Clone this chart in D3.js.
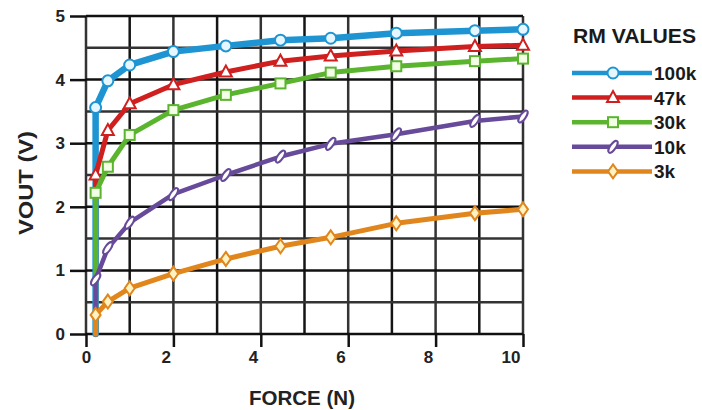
<!DOCTYPE html>
<html>
<head>
<meta charset="utf-8">
<script src="https://cdn.jsdelivr.net/npm/d3@7"></script>
<style>
  html, body { margin: 0; padding: 0; background: #fff; }
  svg { display: block; font-family: "Liberation Sans", Arial, sans-serif; }
</style>
</head>
<body>
<svg id="chart" width="702" height="410"></svg>
<script>
// Force sample points (N), shared by every RM curve
const forces = [0.22, 0.5, 1, 2, 3.2, 4.45, 5.6, 7.1, 8.9, 10];

// Output voltage (V) for each RM value
const vout100k = [3.56, 3.98, 4.23, 4.44, 4.53, 4.62, 4.65, 4.73, 4.77, 4.79];
const vout47k  = [2.50, 3.20, 3.62, 3.92, 4.12, 4.29, 4.37, 4.45, 4.52, 4.54];
const vout30k  = [2.22, 2.63, 3.13, 3.52, 3.76, 3.94, 4.11, 4.21, 4.29, 4.33];
const vout10k  = [0.86, 1.35, 1.75, 2.20, 2.50, 2.79, 2.99, 3.14, 3.35, 3.42];
const vout3k   = [0.30, 0.51, 0.72, 0.95, 1.18, 1.38, 1.52, 1.74, 1.90, 1.96];

const seriesNames = ["100k", "47k", "30k", "10k", "3k"];
const xTicks = [0, 2, 4, 6, 8, 10];
const yTicks = [0, 1, 2, 3, 4, 5];

const series = [
  { name: "100k", values: vout100k, color: "#1e95d2", fill: "#e6f6ff", width: 6.5, shape: "circle" },
  { name: "47k",  values: vout47k,  color: "#d01f1f", fill: "#ffffff", width: 5,   shape: "triangle" },
  { name: "30k",  values: vout30k,  color: "#5bb42e", fill: "#f2ffe4", width: 5,   shape: "square" },
  { name: "10k",  values: vout10k,  color: "#674a99", fill: "#ffffff", width: 4.5, shape: "oval" },
  { name: "3k",   values: vout3k,   color: "#e0861c", fill: "#fff3c4", width: 5,   shape: "diamond" }
];

const svg = d3.select("#chart");
const x = d3.scaleLinear().domain([0, 10]).range([86, 523]);
const y = d3.scaleLinear().domain([0, 5]).range([334, 16]);

// Grid: a line at every newton and every half volt
const grid = svg.append("g");
grid.selectAll("line.v").data(d3.range(0, 11)).join("line")
  .attr("x1", d => x(d)).attr("x2", d => x(d))
  .attr("y1", y(5)).attr("y2", y(0))
  .attr("stroke", (d, i) => i % 2 ? "#151515" : "#333")
  .attr("stroke-width", 2.5);
grid.selectAll("line.h").data(d3.range(0, 11).map(d => d / 2)).join("line")
  .attr("x1", x(0)).attr("x2", x(10))
  .attr("y1", d => y(d)).attr("y2", d => y(d))
  .attr("stroke", (d, i) => i % 2 ? "#333" : "#111")
  .attr("stroke-width", 2.5);

// Y axis: outward ticks at whole volts
const yAxis = d3.axisLeft(y).tickValues(yTicks).tickSize(16).tickPadding(5).tickFormat(d3.format("d"));
const gy = svg.append("g").attr("transform", `translate(${x(0)},0)`).call(yAxis);
gy.select(".domain").remove();
gy.selectAll(".tick line").attr("stroke", "#111").attr("stroke-width", 2.5);
gy.selectAll(".tick text")
  .attr("font-size", 17).attr("font-weight", "bold").attr("fill", "#222")
  .attr("font-family", "Liberation Sans, Arial, sans-serif");

// X axis: ticks below the plot at even newtons
const xAxis = d3.axisBottom(x).tickValues(xTicks).tickSize(13).tickPadding(4).tickFormat(d3.format("d"));
const gx = svg.append("g").attr("transform", `translate(0,${y(0)})`).call(xAxis);
gx.select(".domain").remove();
gx.selectAll(".tick line").attr("stroke", "#111").attr("stroke-width", 2.5);
gx.selectAll(".tick text")
  .attr("font-size", 17).attr("font-weight", "bold").attr("fill", "#222")
  .attr("font-family", "Liberation Sans, Arial, sans-serif")
  .attr("text-anchor", d => d === 0 ? "middle" : "end")
  .attr("dx", d => d === 0 ? 0 : -3);

// Axis titles
svg.append("text")
  .attr("x", 302).attr("y", 405)
  .attr("text-anchor", "middle")
  .attr("font-size", 21).attr("font-weight", "bold").attr("fill", "#222")
  .attr("textLength", 106).attr("lengthAdjust", "spacingAndGlyphs")
  .text("FORCE (N)");
svg.append("text")
  .attr("transform", "translate(33,183) rotate(-90)")
  .attr("text-anchor", "middle")
  .attr("font-size", 21).attr("font-weight", "bold").attr("fill", "#222")
  .attr("textLength", 104).attr("lengthAdjust", "spacingAndGlyphs")
  .text("VOUT (V)");

// Marker drawing helper
function marker(sel, s) {
  if (s.shape === "circle") {
    sel.append("circle").attr("r", 5.5);
  } else if (s.shape === "triangle") {
    sel.append("path").attr("d", "M0,-6.5L6,4.5L-6,4.5Z");
  } else if (s.shape === "square") {
    sel.append("rect").attr("x", -5).attr("y", -5).attr("width", 10).attr("height", 10);
  } else if (s.shape === "oval") {
    sel.append("ellipse").attr("rx", 2.8).attr("ry", 7).attr("transform", "rotate(35)");
  } else {
    sel.append("path").attr("d", "M0,-7L5,0L0,7L-5,0Z");
  }
  sel.selectAll("*").attr("fill", s.fill).attr("stroke", s.color).attr("stroke-width", 2);
}

// Curves: each one rises from zero at the first sample force
const line = d3.line().x(d => x(d[0])).y(d => y(d[1]));
series.forEach(s => {
  const pts = [[forces[0], 0]].concat(forces.map((f, i) => [f, s.values[i]]));
  const g = svg.append("g");
  g.append("path")
    .attr("d", line(pts))
    .attr("fill", "none").attr("stroke", s.color)
    .attr("stroke-width", s.width)
    .attr("stroke-linejoin", "round").attr("stroke-linecap", "round");
  forces.forEach((f, i) => {
    const m = g.append("g").attr("transform", `translate(${x(f)},${y(s.values[i])})`);
    marker(m, s);
  });
});

// Legend
const legend = svg.append("g");
legend.append("text")
  .attr("x", 573).attr("y", 43)
  .attr("font-size", 21).attr("font-weight", "bold").attr("fill", "#1a1a1a")
  .attr("textLength", 123).attr("lengthAdjust", "spacingAndGlyphs")
  .text("RM VALUES");
series.forEach((s, i) => {
  const cy = 73 + i * 24.6;
  legend.append("line")
    .attr("x1", 572).attr("x2", 652).attr("y1", cy).attr("y2", cy)
    .attr("stroke", s.color).attr("stroke-width", 4.5);
  const m = legend.append("g").attr("transform", `translate(613,${cy})`);
  marker(m, s);
  legend.append("text")
    .attr("x", 654).attr("y", cy + 7)
    .attr("font-size", 19).attr("font-weight", "bold").attr("fill", "#1a1a1a")
    .text(seriesNames[i]);
});
</script>
</body>
</html>
